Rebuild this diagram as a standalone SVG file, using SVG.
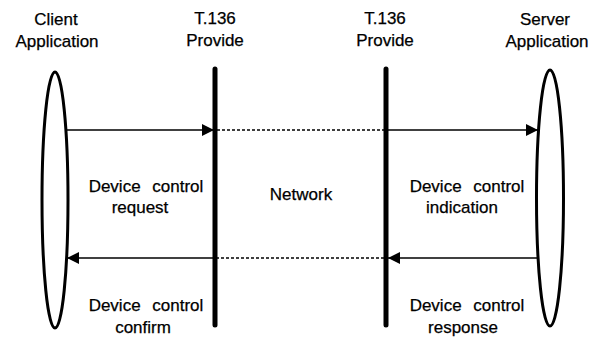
<svg xmlns="http://www.w3.org/2000/svg" width="598" height="337" viewBox="0 0 598 337">
<style>
text{font-family:"Liberation Sans",Arial,sans-serif;font-size:17px;fill:#000;stroke:#000;stroke-width:0.25;text-anchor:middle}
.dc{word-spacing:7px}
.app{fill:none;stroke:#000;stroke-width:3}
.prov{stroke:#000;stroke-width:5;stroke-linecap:round}
.msg{stroke:#000;stroke-width:1.6;fill:none}
.net{stroke:#000;stroke-width:1.5;stroke-dasharray:3 2;fill:none}
</style>
<defs>
<marker id="ah" viewBox="0 0 12 12" refX="12" refY="6" markerWidth="12" markerHeight="12" markerUnits="userSpaceOnUse" orient="auto">
<path d="M0,0 L12,6 L0,12 Z" fill="#000"/>
</marker>
</defs>
<rect width="598" height="337" fill="#fff"/>
<g id="client">
<ellipse class="app" cx="55" cy="200" rx="13" ry="128"/>
<text x="56" y="25">Client</text>
<text x="57" y="47">Application</text>
</g>
<g id="provider-left">
<line class="prov" x1="215" y1="69" x2="215" y2="325"/>
<text x="215" y="24">T.136</text>
<text x="215" y="46">Provide</text>
</g>
<g id="provider-right">
<line class="prov" x1="386" y1="69" x2="386" y2="325"/>
<text x="385" y="24">T.136</text>
<text x="385" y="46">Provide</text>
</g>
<g id="server">
<ellipse class="app" cx="550" cy="198" rx="13.5" ry="128"/>
<text x="545" y="25">Server</text>
<text x="547" y="47">Application</text>
</g>
<g id="network">
<text x="301" y="200">Network</text>
</g>
<g id="connectors">
<line class="msg" x1="67" y1="130" x2="214" y2="130" marker-end="url(#ah)"/>
<line class="net" x1="217" y1="130" x2="384" y2="130"/>
<line class="msg" x1="388" y1="130" x2="538" y2="130" marker-end="url(#ah)"/>
<line class="msg" x1="537" y1="258" x2="388" y2="258" marker-end="url(#ah)"/>
<line class="net" x1="384" y1="258" x2="217" y2="258"/>
<line class="msg" x1="213" y1="258" x2="67" y2="258" marker-end="url(#ah)"/>
</g>
<g id="labels">
<text class="dc" x="146" y="192">Device control</text>
<text x="140" y="213">request</text>
<text class="dc" x="467" y="192">Device control</text>
<text x="462" y="213">indication</text>
<text class="dc" x="146" y="311">Device control</text>
<text x="143" y="333">confirm</text>
<text class="dc" x="467" y="311">Device control</text>
<text x="463" y="333">response</text>
</g>
</svg>
